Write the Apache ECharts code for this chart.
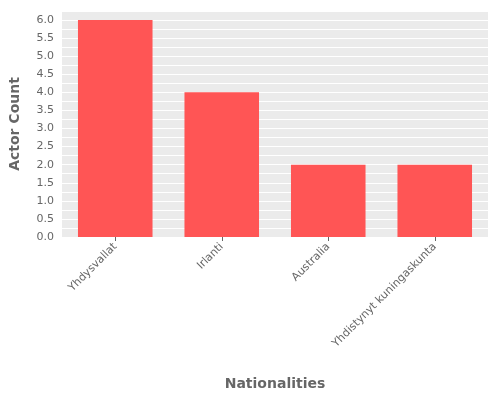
<!DOCTYPE html>
<html>
<head>
<meta charset="utf-8">
<script src="https://cdn.jsdelivr.net/npm/echarts@6/dist/echarts.min.js"></script>
<style>html,body{margin:0;padding:0;background:#fff}#chart{width:500px;height:400px}</style>
</head>
<body>
<div id="chart"></div>
<script>
var categories = ['Yhdysvallat', 'Irlanti', 'Australia', 'Yhdistynyt kuningaskunta'];
var actorCounts = [6, 4, 2, 2];

var chart = echarts.init(document.getElementById('chart'));
chart.setOption({
    animation: false,
    grid: {left: 62, right: 12, top: 11, bottom: 163, show: true, backgroundColor: '#EBEBEB', borderWidth: 0},
    xAxis: {
        type: 'category',
        data: categories,
        name: 'Nationalities',
        nameLocation: 'middle',
        nameGap: 140,
        nameTextStyle: {color: '#666', fontSize: 14, fontWeight: 'bold', fontFamily: 'DejaVu Sans'},
        axisLine: {show: false},
        axisTick: {show: true, alignWithLabel: true, lineStyle: {color: '#666'}, length: 4},
        axisLabel: {rotate: 45, color: '#666', fontSize: 11, fontFamily: 'DejaVu Sans', margin: 8}
    },
    yAxis: {
        type: 'value',
        min: 0,
        max: 6.25,
        interval: 0.25,
        name: 'Actor Count',
        nameLocation: 'middle',
        nameGap: 40,
        nameTextStyle: {color: '#666', fontSize: 14, fontWeight: 'bold', fontFamily: 'DejaVu Sans'},
        axisLine: {show: false},
        axisTick: {show: false},
        axisLabel: {
            color: '#666', fontSize: 11, fontFamily: 'DejaVu Sans',
            formatter: function (v) { return Math.abs(v * 2 - Math.round(v * 2)) < 1e-6 ? v.toFixed(1) : ''; }
        },
        splitLine: {lineStyle: {color: '#fff', width: 1}}
    },
    series: [{
        type: 'bar',
        data: actorCounts,
        barWidth: '70%',
        itemStyle: {color: '#FF5555'}
    }]
});
</script>
</body>
</html>
